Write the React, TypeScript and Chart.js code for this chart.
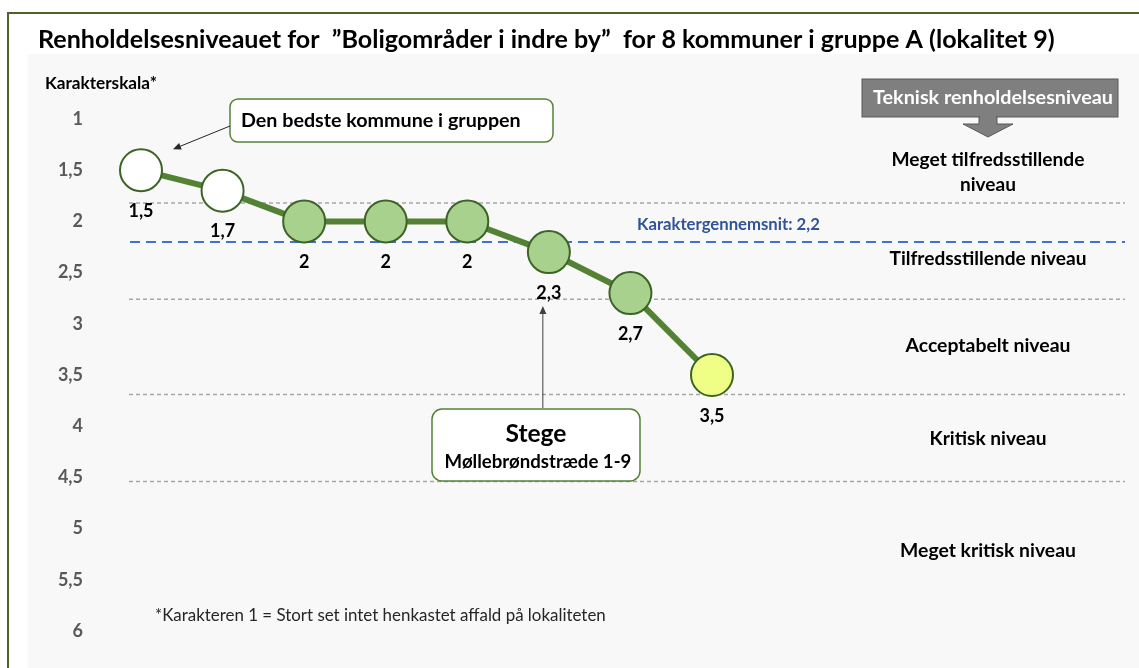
import React, { useEffect, useRef } from "react";
import { Chart, registerables } from "chart.js";

Chart.register(...registerables);

// ---------- data ----------
const ranks = [0, 1, 2, 3, 4, 5, 6, 7];
const scores = [1.5, 1.7, 2, 2, 2, 2.3, 2.7, 3.5];
const pointFills = ["#ffffff", "#ffffff", "#a9d18e", "#a9d18e", "#a9d18e", "#a9d18e", "#a9d18e", "#efff85"];
const yMin = 1;
const yMax = 6;
const yStep = 0.5;
const xMin = -0.564;
const xMax = 7;
const averageScore = 2.2;
const levelBoundaries = [1.82, 2.76, 3.69, 4.54];
const levelNames = ["Meget tilfredsstillende", "niveau", "Tilfredsstillende niveau", "Acceptabelt niveau", "Kritisk niveau", "Meget kritisk niveau"];
const levelNameValues = [1.4, 1.645, 2.37, 3.21, 4.12, 5.22];
const titleText = "Renholdelsesniveauet for  \u201dBoligområder i indre by\u201d  for 8 kommuner i gruppe A (lokalitet 9)";
const axisTitle = "Karakterskala*";
const averageLabel = "Karaktergennemsnit: 2,2";
const levelHeader = "Teknisk renholdelsesniveau";
const bestLabel = "Den bedste kommune i gruppen";
const stegeIndex = 5;
const stegeName = "Stege";
const stegeStreet = "Møllebrøndstræde 1-9";
const footnote = "*Karakteren 1 = Stort set intet henkastet affald på lokaliteten";

const FONT = "Lato, 'Open Sans', sans-serif";
const W = 1139;
const H = 668;

const fmt = (v: number) => String(v).replace(".", ",");

function fitText(ctx: CanvasRenderingContext2D, text: string, x: number, y: number, width: number, weight: string, align: CanvasTextAlign, color: string) {
  const base = 20;
  ctx.font = `${weight} ${base}px ${FONT}`;
  const w = ctx.measureText(text).width;
  const size = (base * width) / w;
  ctx.font = `${weight} ${size}px ${FONT}`;
  ctx.textAlign = align;
  ctx.textBaseline = "middle";
  ctx.fillStyle = color;
  ctx.fillText(text, x, y);
}

function arrow(ctx: CanvasRenderingContext2D, x1: number, y1: number, x2: number, y2: number, color: string) {
  ctx.save();
  ctx.strokeStyle = color;
  ctx.fillStyle = color;
  ctx.lineWidth = 1;
  ctx.setLineDash([]);
  const ang = Math.atan2(y2 - y1, x2 - x1);
  const hl = 8;
  ctx.beginPath();
  ctx.moveTo(x1, y1);
  ctx.lineTo(x2 - Math.cos(ang) * hl * 0.8, y2 - Math.sin(ang) * hl * 0.8);
  ctx.stroke();
  ctx.beginPath();
  ctx.moveTo(x2, y2);
  ctx.lineTo(x2 - hl * Math.cos(ang) + 3.5 * Math.sin(ang), y2 - hl * Math.sin(ang) - 3.5 * Math.cos(ang));
  ctx.lineTo(x2 - hl * Math.cos(ang) - 3.5 * Math.sin(ang), y2 - hl * Math.sin(ang) + 3.5 * Math.cos(ang));
  ctx.closePath();
  ctx.fill();
  ctx.restore();
}

function roundBox(ctx: CanvasRenderingContext2D, x: number, y: number, w: number, h: number, r: number, fill: string, stroke: string) {
  ctx.save();
  ctx.beginPath();
  ctx.roundRect(x, y, w, h, r);
  ctx.fillStyle = fill;
  ctx.fill();
  ctx.lineWidth = 1.5;
  ctx.strokeStyle = stroke;
  ctx.stroke();
  ctx.restore();
}

const decorPlugin = {
  id: "decor",
  beforeDraw(chart: any) {
    const ctx: CanvasRenderingContext2D = chart.ctx;
    ctx.save();
    ctx.fillStyle = "#ffffff";
    ctx.fillRect(0, 0, W, H);
    ctx.fillStyle = "#f8f8f8";
    ctx.fillRect(28, 54, W - 28, H - 54);
    // frame
    ctx.strokeStyle = "#4f6228";
    ctx.lineWidth = 2;
    ctx.beginPath();
    ctx.moveTo(8, H);
    ctx.lineTo(8, 13);
    ctx.lineTo(W, 13);
    ctx.stroke();
    // title
    fitText(ctx, titleText, 38, 40, 1017, "bold", "left", "#000000");
    fitText(ctx, axisTitle, 45, 83, 112, "bold", "left", "#000000");
    ctx.restore();
  },
  beforeDatasetsDraw(chart: any) {
    const ctx: CanvasRenderingContext2D = chart.ctx;
    const y = chart.scales.y;
    ctx.save();
    ctx.lineWidth = 1.5;
    ctx.strokeStyle = "#a6a6a6";
    ctx.setLineDash([4, 3]);
    levelBoundaries.forEach((v) => {
      const py = y.getPixelForValue(v);
      ctx.beginPath();
      ctx.moveTo(129, py);
      ctx.lineTo(1125, py);
      ctx.stroke();
    });
    const ay = y.getPixelForValue(averageScore);
    ctx.strokeStyle = "#4472c4";
    ctx.lineWidth = 2;
    ctx.setLineDash([10, 6]);
    ctx.beginPath();
    ctx.moveTo(130, ay);
    ctx.lineTo(1125, ay);
    ctx.stroke();
    ctx.setLineDash([]);
    fitText(ctx, averageLabel, 637, ay - 17, 183, "bold", "left", "#2f5597");

    // level names
    const widths = [193, 56, 197, 165, 117, 176];
    levelNames.forEach((t, i) => {
      fitText(ctx, t, 988, y.getPixelForValue(levelNameValues[i]), widths[i], "bold", "center", "#000000");
    });

    // header box with arrow
    ctx.fillStyle = "#7f7f7f";
    ctx.strokeStyle = "#5a5a5a";
    ctx.lineWidth = 1;
    ctx.fillRect(862, 79, 256, 38);
    ctx.strokeRect(862, 79, 256, 38);
    ctx.beginPath();
    ctx.moveTo(979, 117);
    ctx.lineTo(979, 124);
    ctx.lineTo(963, 124);
    ctx.lineTo(988, 137);
    ctx.lineTo(1013, 124);
    ctx.lineTo(997, 124);
    ctx.lineTo(997, 117);
    ctx.closePath();
    ctx.fill();
    ctx.stroke();
    ctx.fillRect(980, 115, 16, 4);
    fitText(ctx, levelHeader, 993, 98, 240, "bold", "center", "#ffffff");

    // footnote
    fitText(ctx, footnote, 155, 616, 451, "normal", "left", "#262626");
    ctx.restore();
  },
  afterDatasetsDraw(chart: any) {
    const ctx: CanvasRenderingContext2D = chart.ctx;
    const meta = chart.getDatasetMeta(0);
    ctx.save();
    meta.data.forEach((pt: any, i: number) => {
      ctx.font = `bold 18px ${FONT}`;
      ctx.textAlign = "center";
      ctx.textBaseline = "middle";
      ctx.fillStyle = "#000000";
      ctx.fillText(fmt(scores[i]), pt.x, pt.y + 41);
    });

    // best municipality callout
    const p0 = meta.data[0];
    roundBox(ctx, 230, 99, 323, 43, 8, "#ffffff", "#548235");
    fitText(ctx, bestLabel, 241, 121, 280, "bold", "left", "#000000");
    arrow(ctx, 230, 126, p0.x + 32, p0.y - 21, "#262626");

    // Stege callout
    const ps = meta.data[stegeIndex];
    roundBox(ctx, 432, 409, 208, 72, 10, "#ffffff", "#548235");
    fitText(ctx, stegeName, 536, 434, 61, "bold", "center", "#000000");
    fitText(ctx, stegeStreet, 538, 462, 187, "bold", "center", "#000000");
    arrow(ctx, ps.x - 6, 408, ps.x - 6, ps.y + 54, "#404040");
    ctx.restore();
  },
};

export default function App() {
  const ref = useRef<HTMLCanvasElement | null>(null);
  useEffect(() => {
    if (!ref.current) return;
    const chart = new Chart(ref.current, {
      type: "line",
      data: {
        datasets: [
          {
            data: scores.map((v, i) => ({ x: ranks[i], y: v })),
            borderColor: "#548235",
            borderWidth: 6,
            pointRadius: 21,
            pointHoverRadius: 21,
            pointBackgroundColor: pointFills,
            pointBorderColor: "#3d6326",
            pointBorderWidth: 2,
            tension: 0,
            clip: false as any,
          },
        ],
      },
      options: {
        responsive: false,
        animation: false,
        events: [],
        layout: { autoPadding: false, padding: { left: 0, top: 119, right: W - 712, bottom: H - 631 } },
        plugins: { legend: { display: false }, tooltip: { enabled: false } },
        scales: {
          x: { type: "linear", display: false, min: xMin, max: xMax },
          y: {
            min: yMin,
            max: yMax,
            reverse: true,
            afterFit: (s: any) => {
              s.width = 95;
            },
            grid: { display: false, drawTicks: false },
            border: { display: false },
            ticks: {
              stepSize: yStep,
              padding: 12,
              color: "#595959",
              font: { family: FONT, size: 18, weight: "bold" },
              callback: (v: any) => fmt(Number(v)),
            },
          },
        },
      },
      plugins: [decorPlugin],
    });
    return () => chart.destroy();
  }, []);
  return (
    <div style={{ position: "absolute", left: 0, top: 0, width: W, height: H }}>
      <canvas ref={ref} width={W} height={H} style={{ display: "block" }} />
    </div>
  );
}
